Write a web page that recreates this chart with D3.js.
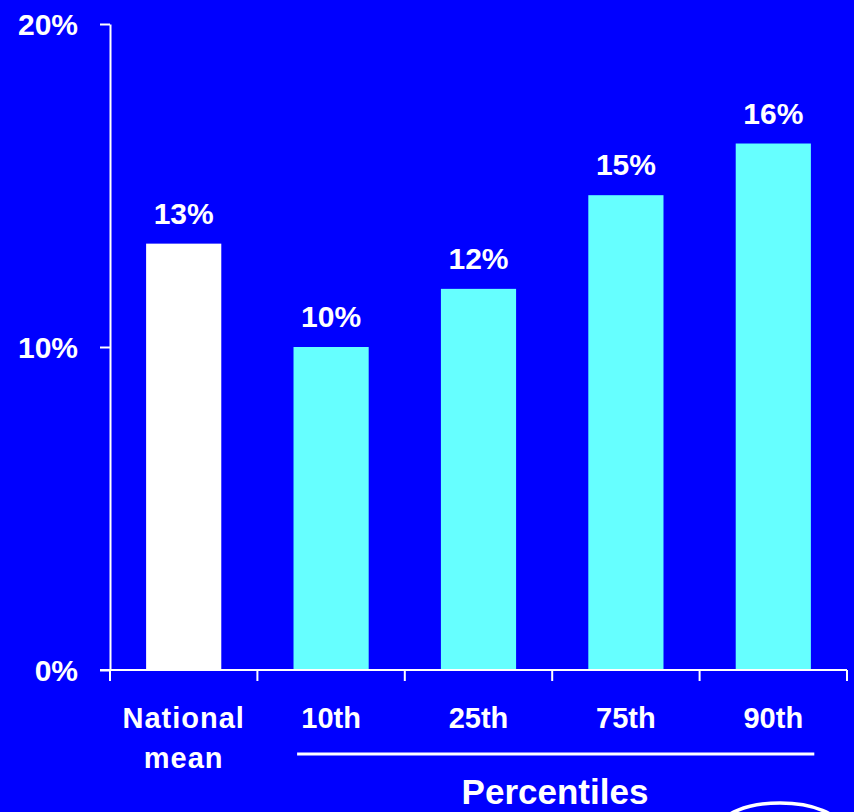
<!DOCTYPE html>
<html>
<head>
<meta charset="utf-8">
<script src="https://cdn.jsdelivr.net/npm/d3@7"></script>
<style>
  html, body { margin: 0; padding: 0; background: #0000ff; overflow: hidden; }
  svg { display: block; }
  text { font-family: "Liberation Sans", Arial, sans-serif; font-weight: bold; fill: #ffffff; }
</style>
</head>
<body>
<svg id="chart" width="854" height="812"></svg>
<script>
const categories = ["National mean", "10th", "25th", "75th", "90th"];
const labelLines = [["National", "mean"], ["10th"], ["25th"], ["75th"], ["90th"]];
const values = [13.2, 10.0, 11.8, 14.7, 16.3];
const valueLabels = ["13%", "10%", "12%", "15%", "16%"];
const barColors = ["#ffffff", "#66ffff", "#66ffff", "#66ffff", "#66ffff"];
const yTicks = [0, 10, 20];
const groupLabel = "Percentiles";

const svg = d3.select("#chart");
svg.append("rect").attr("width", 854).attr("height", 812).attr("fill", "#0000ff");

const x = d3.scaleBand().domain(categories).range([110, 847]).paddingInner(0.49).paddingOuter(0.245);
const y = d3.scaleLinear().domain([0, 20]).range([670, 24]);
const step = x.step();

// bars
svg.selectAll("rect.bar").data(categories).enter().append("rect")
  .attr("class", "bar")
  .attr("x", d => x(d))
  .attr("width", x.bandwidth())
  .attr("y", (d, i) => y(values[i]))
  .attr("height", (d, i) => y(0) - y(values[i]))
  .attr("fill", (d, i) => barColors[i]);

// value labels
svg.selectAll("text.val").data(categories).enter().append("text")
  .attr("class", "val")
  .attr("x", d => x(d) + x.bandwidth() / 2)
  .attr("y", (d, i) => y(values[i]) - 20)
  .attr("text-anchor", "middle")
  .attr("font-size", 30)
  .text((d, i) => valueLabels[i]);

// y axis
const yAxis = d3.axisLeft(y).tickValues(yTicks).tickSize(10).tickSizeOuter(0).tickPadding(22)
  .tickFormat(d => d + "%");
const gy = svg.append("g").attr("transform", "translate(110,0)").call(yAxis);
gy.select(".domain").attr("stroke", "#ffffff").attr("stroke-width", 2);
gy.selectAll(".tick line").attr("stroke", "#ffffff").attr("stroke-width", 2);
gy.selectAll(".tick text").attr("font-size", 30).attr("font-family", "Liberation Sans, Arial, sans-serif")
  .attr("font-weight", "bold").attr("fill", "#ffffff").attr("dy", "0.36em");

// x axis line and boundary ticks
svg.append("line").attr("x1", 100).attr("x2", x.range()[1]).attr("y1", y(0)).attr("y2", y(0))
  .attr("stroke", "#ffffff").attr("stroke-width", 2);
const bounds = d3.range(categories.length + 1).map(i => x.range()[0] + i * step);
svg.selectAll("line.xt").data(bounds).enter().append("line")
  .attr("class", "xt")
  .attr("x1", d => d).attr("x2", d => d)
  .attr("y1", y(0)).attr("y2", y(0) + 11)
  .attr("stroke", "#ffffff").attr("stroke-width", 2);

// x labels
categories.forEach((c, i) => {
  const t = svg.append("text")
    .attr("x", x(c) + x.bandwidth() / 2)
    .attr("y", 728)
    .attr("text-anchor", "middle")
    .attr("font-size", 29)
    .attr("letter-spacing", labelLines[i].length > 1 ? 1 : 0);
  labelLines[i].forEach((ln, j) => {
    t.append("tspan").attr("x", x(c) + x.bandwidth() / 2).attr("dy", j === 0 ? 0 : 40).text(ln);
  });
});

// group bracket
svg.append("line").attr("x1", x("10th") + x.bandwidth() / 2 - 34).attr("x2", x("90th") + x.bandwidth() / 2 + 41)
  .attr("y1", 754).attr("y2", 754).attr("stroke", "#ffffff").attr("stroke-width", 3);
svg.append("text").attr("x", 555).attr("y", 804).attr("text-anchor", "middle")
  .attr("font-size", 35).text(groupLabel);

// logo outline bottom-right
svg.append("ellipse").attr("cx", 780).attr("cy", 828).attr("rx", 60).attr("ry", 25)
  .attr("fill", "none").attr("stroke", "#ffffff").attr("stroke-width", 3.5);
</script>
</body>
</html>
